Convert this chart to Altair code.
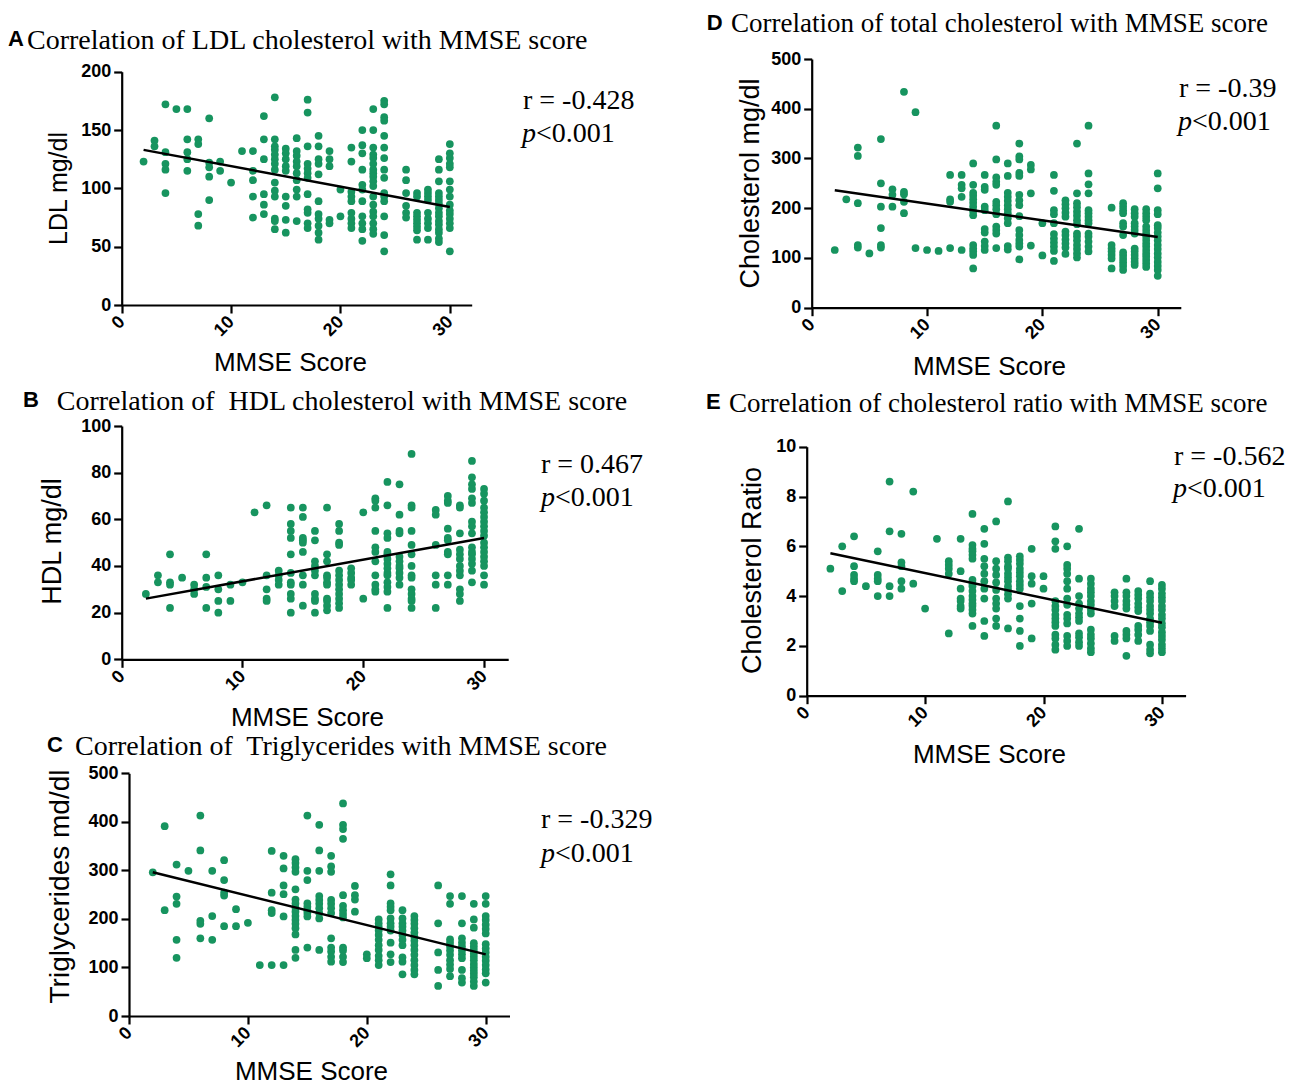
import altair as alt
import pandas as pd

# ---------------- data (MMSE score -> measured values) ----------------
ldl = {
    2: [123], 3: [141, 136], 4: [172, 131, 121, 116, 96], 5: [168],
    6: [168, 142, 131, 125, 115], 7: [142, 138, 78, 68], 8: [160, 122, 118, 110, 90],
    9: [123, 115], 10: [105], 11: [132], 12: [132, 115, 107, 93, 75],
    13: [162, 142, 125, 95, 86, 78],
    14: [178, 142, 136, 133, 129, 125, 121, 116, 105, 98, 93, 74, 72, 65],
    15: [134, 130, 125, 119, 115, 93, 85, 73, 62],
    16: [143, 132, 128, 123, 119, 113, 107, 99, 93, 72],
    17: [176, 165, 136, 121, 117, 113, 109, 95, 82, 79, 70, 66],
    18: [145, 136, 125, 121, 112, 89, 78, 74, 68, 62, 56],
    19: [132, 125, 119, 73, 70], 20: [99, 76],
    21: [135, 123, 97, 93, 89, 79, 74, 70, 66],
    22: [150, 137, 130, 116, 103, 99, 89, 76, 70, 65, 55],
    23: [168, 150, 135, 129, 126, 121, 116, 113, 110, 106, 102, 93, 86, 80, 76, 70, 65, 61],
    24: [175, 172, 161, 158, 145, 135, 126, 116, 109, 96, 93, 89, 76, 60, 46],
    26: [116, 107, 96, 85, 79, 75],
    27: [96, 93, 79, 76, 73, 70, 67, 64, 56],
    28: [99, 96, 93, 90, 79, 74, 70, 66, 56],
    29: [125, 116, 106, 96, 93, 90, 87, 83, 79, 76, 72, 69, 65, 62, 57, 54],
    30: [138, 130, 126, 121, 118, 106, 99, 93, 86, 81, 78, 74, 70, 66, 46],
}
hdl = {
    2: [28], 3: [36, 33], 4: [45, 33, 32, 22], 5: [35], 6: [32, 30, 28],
    7: [45, 35, 31, 22], 8: [36, 30, 25, 20], 9: [32, 25], 10: [33], 11: [63],
    12: [66, 36, 30, 26, 25], 13: [38, 36, 34, 32],
    14: [65, 58, 55, 52, 45, 37, 33, 32, 28, 26, 20],
    15: [65, 61, 52, 51, 50, 46, 36, 32, 23],
    16: [55, 51, 42, 40, 38, 36, 28, 26, 25, 20],
    17: [65, 45, 42, 36, 35, 33, 32, 26, 25, 23, 21],
    18: [58, 55, 50, 49, 38, 36, 34, 32, 30, 28, 26, 24, 22],
    19: [39, 37, 35, 34, 32], 20: [63, 26],
    21: [69, 68, 65, 55, 48, 46, 42, 36, 32, 30, 29],
    22: [76, 66, 54, 52, 46, 45, 43, 41, 39, 37, 36, 33, 31, 29, 22],
    23: [75, 62, 55, 54, 44, 42, 40, 39, 37, 35, 32],
    24: [88, 66, 65, 55, 49, 45, 40, 36, 35, 30, 28, 26, 25, 22],
    26: [64, 62, 49, 36, 32, 22],
    27: [70, 68, 67, 56, 52, 51, 46, 45, 36, 32],
    28: [66, 65, 54, 47, 45, 43, 40, 38, 36, 30, 28, 25],
    29: [85, 78, 75, 73, 69, 67, 59, 57, 54, 48, 46, 45, 43, 41, 38, 33],
    30: [73, 71, 68, 65, 63, 61, 59, 57, 55, 53, 50, 48, 46, 44, 42, 40, 36, 32],
}
tg = {
    2: [296], 3: [391, 218], 4: [312, 246, 231, 157, 120], 5: [299],
    6: [413, 341, 196, 190, 160], 7: [299, 206, 157], 8: [321, 280, 254, 248, 185],
    9: [220, 185], 10: [192], 11: [105], 12: [340, 254, 218, 212, 105],
    13: [330, 304, 269, 251, 205, 105],
    14: [323, 315, 306, 297, 261, 240, 232, 223, 215, 206, 198, 190, 181, 168, 136, 120],
    15: [413, 299, 280, 232, 225, 218, 212, 205, 141],
    16: [394, 341, 299, 247, 239, 231, 222, 212, 201, 136],
    17: [330, 308, 297, 239, 231, 222, 212, 160, 141, 133, 122, 112],
    18: [438, 394, 385, 365, 249, 227, 218, 210, 203, 141, 135, 122, 111],
    19: [268, 249, 240, 215], 20: [127, 119],
    21: [199, 191, 184, 176, 167, 157, 146, 136, 124, 115, 105],
    22: [292, 269, 232, 225, 218, 201, 191, 184, 176, 151, 127, 111],
    23: [218, 201, 191, 184, 176, 167, 157, 146, 121, 112, 86],
    24: [206, 198, 190, 181, 172, 163, 155, 146, 136, 126, 115, 105, 95, 86],
    26: [269, 191, 131, 95, 62],
    27: [247, 231, 158, 151, 143, 135, 126, 115, 106, 97, 82],
    28: [247, 191, 160, 151, 143, 135, 127, 119, 95, 78, 69],
    29: [231, 199, 182, 150, 143, 136, 129, 122, 115, 107, 100, 93, 87, 80, 71, 62],
    30: [247, 231, 206, 198, 188, 179, 170, 148, 139, 131, 122, 114, 105, 96, 88, 69],
}
tc = {
    2: [116], 3: [218], 4: [322, 305, 210, 126, 121], 5: [109],
    6: [339, 250, 203, 160, 126, 121], 7: [238, 227, 203], 8: [434, 233, 228, 213, 190],
    9: [393, 120], 10: [116], 11: [114], 12: [267, 218, 213, 120],
    13: [267, 247, 240, 223, 116],
    14: [290, 247, 231, 225, 218, 211, 203, 194, 186, 126, 119, 113, 106, 79],
    15: [267, 243, 237, 203, 196, 158, 151, 133, 124, 116],
    16: [366, 298, 262, 253, 247, 213, 206, 198, 188, 163, 156, 149, 120],
    17: [290, 265, 231, 223, 215, 206, 198, 190, 180, 170, 124, 117],
    18: [330, 304, 298, 271, 265, 227, 216, 206, 184, 156, 146, 136, 129, 123, 97],
    19: [287, 278, 230, 125], 20: [170, 105],
    21: [267, 235, 196, 188, 170, 148, 139, 131, 123, 114, 94],
    22: [216, 208, 200, 191, 183, 153, 146, 137, 129, 121, 108],
    23: [330, 230, 210, 202, 193, 185, 176, 168, 149, 143, 135, 126, 118, 109, 101],
    24: [366, 270, 248, 230, 196, 190, 183, 176, 170, 149, 143, 133, 123, 113],
    26: [201, 126, 119, 113, 106, 99, 79],
    27: [210, 203, 196, 190, 170, 163, 146, 111, 105, 98, 91, 84, 76],
    28: [198, 190, 183, 170, 163, 156, 149, 119, 113, 106, 99, 92, 86],
    29: [198, 190, 183, 176, 163, 156, 149, 143, 136, 129, 123, 116, 109, 103, 96, 89, 82],
    30: [270, 240, 196, 188, 166, 160, 151, 143, 135, 126, 118, 109, 101, 92, 84, 76, 64],
}
ratio = {
    2: [5.1], 3: [6.0, 4.2], 4: [6.4, 5.2, 4.85, 4.7, 4.6], 5: [4.4],
    6: [5.8, 4.85, 4.7, 4.6, 4.0], 7: [8.6, 6.6, 4.4, 4.0], 8: [6.5, 5.35, 5.2, 4.6, 4.3],
    9: [8.2, 4.5], 10: [3.5], 11: [6.3], 12: [5.4, 5.25, 5.1, 4.9, 2.5],
    13: [6.3, 5.0, 4.3, 3.9, 3.8, 3.6, 3.5],
    14: [7.3, 6.05, 5.9, 5.8, 5.65, 5.5, 4.65, 4.5, 4.4, 4.2, 4.0, 3.85, 3.7, 3.6, 3.45, 3.3, 2.8],
    15: [6.7, 6.1, 5.5, 5.2, 4.9, 4.6, 4.3, 3.9, 3.0, 2.4],
    16: [7.0, 5.4, 5.1, 4.85, 4.55, 4.25, 3.9, 3.7, 3.5, 3.1, 2.8],
    17: [7.8, 5.55, 5.4, 5.2, 5.1, 4.9, 4.75, 4.6, 4.4, 4.25, 4.07, 3.9, 2.7],
    18: [5.6, 5.45, 5.3, 5.1, 4.95, 4.8, 4.6, 4.45, 4.3, 3.6, 3.1, 2.6, 2.0],
    19: [5.9, 4.8, 4.5, 3.7, 2.3], 20: [4.8, 4.3],
    21: [6.8, 6.2, 5.9, 3.8, 3.6, 3.45, 3.25, 3.1, 2.95, 2.8, 2.45, 2.3, 2.05, 1.85],
    22: [6.0, 5.25, 5.1, 4.9, 4.6, 4.3, 3.9, 3.65, 3.25, 3.1, 2.9, 2.4, 2.2, 2.0],
    23: [6.7, 4.7, 4.0, 3.7, 3.5, 3.3, 3.15, 3.0, 2.5, 2.35, 2.15, 2.0],
    24: [4.7, 4.5, 4.3, 4.15, 4.0, 3.8, 3.65, 3.45, 3.3, 2.65, 2.45, 2.3, 2.1, 1.9, 1.75],
    26: [4.15, 4.0, 3.8, 3.6, 2.4, 2.2],
    27: [4.7, 4.15, 4.0, 3.8, 3.65, 3.5, 2.6, 2.45, 2.3, 1.6],
    28: [4.2, 4.05, 3.9, 3.7, 3.55, 3.4, 2.8, 2.65, 2.45, 2.2],
    29: [4.6, 4.1, 3.95, 3.8, 3.6, 3.45, 3.3, 3.1, 2.95, 2.8, 2.6, 2.05, 1.85, 1.7],
    30: [4.45, 4.3, 4.1, 3.95, 3.8, 3.6, 3.45, 3.25, 3.1, 2.9, 2.75, 2.55, 2.4, 2.25, 2.05, 1.9, 1.75],
}

# regression line end points (MMSE 2 and 30)
fit_x = [2, 30]
ldl_fit = [133, 84]
hdl_fit = [26, 52]
tg_fit = [296, 127]
tc_fit = [236, 142]
ratio_fit = [5.72, 2.93]

letters = ["A", "B", "C", "D", "E"]
titles = [
    "Correlation of LDL cholesterol with MMSE score",
    "Correlation of\u00a0 HDL cholesterol with MMSE score",
    "Correlation of\u00a0 Triglycerides with MMSE score",
    "Correlation of total cholesterol with MMSE score",
    "Correlation of cholesterol ratio with MMSE score",
]
y_titles = ["LDL mg/dl", "HDL mg/dl", "Triglycerides md/dl", "Cholesterol mg/dl", "Cholesterol Ratio"]
r_labels = ["r = -0.428", "r = 0.467", "r = -0.329", "r = -0.39", "r = -0.562"]
p_label = "<0.001"
x_ticks = [0, 10, 20, 30]
y_ticks = [
    [0, 50, 100, 150, 200],
    [0, 20, 40, 60, 80, 100],
    [0, 100, 200, 300, 400, 500],
    [0, 100, 200, 300, 400, 500],
    [0, 2, 4, 6, 8, 10],
]
y_domains = [[0, 200], [0, 100], [0, 500], [0, 500], [0, 10]]

# ---------------- layout (pixels in the view) ----------------
W, H = 1284, 1079
GREEN = "#17945f"
SANS = "Liberation Sans"
SERIF = "Liberation Serif"

layout = [
    dict(xr=[113.7, 463.7], yr=[297, 63.7], yt=(50, 180), yfs=25, xt=(282, 57),
         lp=(0, 38), tp=(19, 41), tfs=28, rp=(515, 101), pp=(514, 134)),
    dict(xr=[113.7, 500.2], yr=[651.3, 418], yt=(44, 533), yfs=27, xt=(299, 58),
         lp=(15, 399), tp=(48.7, 402), tfs=28, rp=(533, 465), pp=(533, 498)),
    dict(xr=[121, 501.5], yr=[1008, 765.3], yt=(52, 878), yfs=28, xt=(303, 55),
         lp=(39, 744), tp=(67, 747), tfs=28, rp=(533, 820), pp=(533, 854)),
    dict(xr=[803.7, 1172.8], yr=[299.7, 51], yt=(742, 175), yfs=27, xt=(981, 59),
         lp=(698.7, 22), tp=(723, 24), tfs=27, rp=(1171, 89), pp=(1170, 122)),
    dict(xr=[798.7, 1177.6], yr=[687.7, 438.7], yt=(744, 562), yfs=27, xt=(981, 59),
         lp=(698, 401), tp=(721, 404), tfs=27, rp=(1166, 457), pp=(1165, 489)),
]

datasets = [ldl, hdl, tg, tc, ratio]
fits = [ldl_fit, hdl_fit, tg_fit, tc_fit, ratio_fit]


def to_frame(d):
    xs, ys = [], []
    for k, vals in d.items():
        for v in vals:
            xs.append(k)
            ys.append(v)
    return pd.DataFrame({"mmse": xs, "val": ys})


def txt(s, x, y, font, size, weight="normal", style="normal"):
    return alt.Chart(pd.DataFrame({"t": [s]})).mark_text(
        font=font, fontSize=size, fontWeight=weight, fontStyle=style,
        align="left", baseline="alphabetic", color="black"
    ).encode(text="t:N", x=alt.value(x), y=alt.value(y))


axis_common = dict(
    grid=False, domainColor="black", domainWidth=2.2, tickColor="black",
    tickWidth=2.2, tickSize=8, labelFont=SANS, labelFontWeight="bold",
    labelFontSize=18, labelColor="black", titleFont=SANS,
    titleFontWeight="normal", titleColor="black", titleAlign="center",
    titleBaseline="middle", labelOverlap=False,
)

layers = []
for i in range(5):
    L = layout[i]
    df = to_frame(datasets[i])
    xs = alt.Scale(domain=[0, 32], range=L["xr"], nice=False, zero=False)
    ys = alt.Scale(domain=y_domains[i], range=L["yr"], nice=False, zero=False)
    x_axis = alt.Axis(
        values=x_ticks, orient="bottom", offset=L["yr"][0] - H, labelAngle=315,
        labelAlign="right", labelBaseline="middle", labelPadding=6,
        title="MMSE Score", titleX=L["xt"][0], titleY=L["xt"][1], titleAngle=0,
        titleFontSize=26, **axis_common)
    y_axis = alt.Axis(
        values=y_ticks[i], orient="left", offset=-L["xr"][0], labelPadding=3,
        title=y_titles[i], titleX=L["yt"][0] - L["xr"][0], titleY=L["yt"][1],
        titleAngle=270, titleFontSize=L["yfs"], **axis_common)
    pts = alt.Chart(df).mark_circle(size=60, color=GREEN, opacity=1).encode(
        x=alt.X("mmse:Q", scale=xs, axis=x_axis),
        y=alt.Y("val:Q", scale=ys, axis=y_axis),
    )
    line = alt.Chart(pd.DataFrame({"mmse": fit_x, "val": fits[i]})).mark_line(
        color="black", strokeWidth=2.5).encode(
        x=alt.X("mmse:Q", scale=xs, axis=None),
        y=alt.Y("val:Q", scale=ys, axis=None),
    )
    layers += [pts, line]
    layers.append(txt(letters[i], L["lp"][0], L["lp"][1], SANS, 22, weight="bold"))
    layers.append(txt(titles[i], L["tp"][0], L["tp"][1], SERIF, L["tfs"]))
    layers.append(txt(r_labels[i], L["rp"][0], L["rp"][1], SERIF, 28))
    layers.append(txt("p", L["pp"][0], L["pp"][1], SERIF, 28, style="italic"))
    layers.append(txt(p_label, L["pp"][0] + 14, L["pp"][1], SERIF, 28))

chart = alt.layer(*layers).resolve_scale(
    x="independent", y="independent"
).resolve_axis(
    x="independent", y="independent"
).properties(
    width=W, height=H, padding=0,
    autosize=alt.AutoSizeParams(type="none"),
    background="white",
).configure_view(stroke=None)

chart.save("out.html", embed_options={"renderer": "svg", "actions": False})
